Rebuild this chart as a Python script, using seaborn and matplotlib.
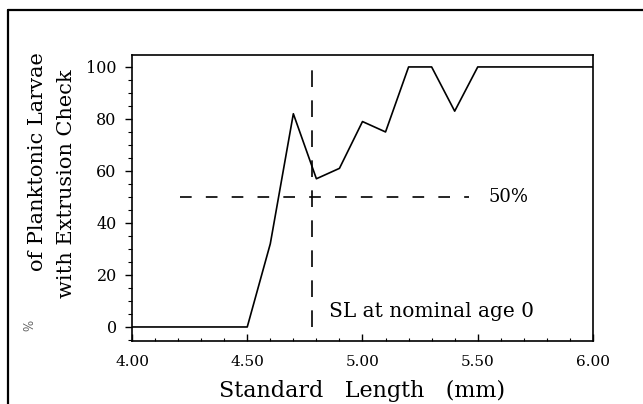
import matplotlib
matplotlib.use("Agg")
import matplotlib.pyplot as plt
import seaborn as sns
import pandas as pd
from matplotlib.lines import Line2D
from matplotlib.ticker import MultipleLocator

sl_mm = [4.00, 4.50, 4.60, 4.70, 4.80, 4.90, 5.00, 5.10, 5.20, 5.30, 5.40, 5.50, 6.00]
pct_check = [0, 0, 32, 82, 57, 61, 79, 75, 100, 100, 83, 100, 100]
x_ticks = [4.0, 4.5, 5.0, 5.5, 6.0]
x_tick_labels = ["4.00", "4.50", "5.00", "5.50", "6.00"]
y_ticks = [0, 20, 40, 60, 80, 100]
nominal_sl = 4.78
half_level = 50

sns.set_style("ticks")
plt.rcParams["font.family"] = ["DejaVu Serif", "DejaVu Sans"]
plt.rcParams["text.color"] = "black"
plt.rcParams["xtick.color"] = "black"
plt.rcParams["ytick.color"] = "black"
plt.rcParams["axes.labelcolor"] = "black"

df = pd.DataFrame({"SL": sl_mm, "pct": pct_check})

fig = plt.figure(figsize=(6.43, 4.04), dpi=100)
ax = fig.add_axes([0.2053, 0.1559, 0.9222 - 0.2053, 0.8639 - 0.1559])

sns.lineplot(data=df, x="SL", y="pct", ax=ax, color="black", lw=1.2, sort=False)

ax.plot([4.21, 5.46], [half_level, half_level], color="black", lw=1.2,
        dashes=(7, 8.5))
ax.plot([nominal_sl, nominal_sl], [0, 100], color="black", lw=1.2,
        dashes=(10, 8))

ax.text(5.545, half_level, "50%", fontsize=13, va="center", ha="left")
ax.text(4.855, 6.0, "SL at nominal age 0", fontsize=14.5, va="center", ha="left")

ax.set_xlim(4.0, 6.0)
ax.set_ylim(-5.4, 104.6)
ax.set_xticks(x_ticks)
ax.set_xticklabels(x_tick_labels)
ax.set_yticks(y_ticks)
ax.xaxis.set_minor_locator(MultipleLocator(0.1))
ax.yaxis.set_minor_locator(MultipleLocator(5))
ax.tick_params(axis="x", which="major", direction="in", length=5, width=1,
               labelsize=11, pad=10)
ax.tick_params(axis="x", which="minor", direction="in", length=2, width=0.8)
ax.tick_params(axis="y", which="major", direction="out", length=5, width=1,
               labelsize=11.5, pad=6)
ax.tick_params(axis="y", which="minor", direction="out", length=3, width=0.8)
for s in ax.spines.values():
    s.set_visible(True)
    s.set_linewidth(1.2)
    s.set_color("black")

ax.set_xlabel("Standard   Length   (mm)", fontsize=16, labelpad=8)
ax.set_ylabel("")

fig.text(0.059, 0.599, "of Planktonic Larvae", rotation=90, fontsize=15,
         ha="center", va="center")
fig.text(0.104, 0.545, "with Extrusion Check", rotation=90, fontsize=15,
         ha="center", va="center")
fig.text(0.047, 0.195, "%", rotation=90, fontsize=8.5, color="#555555",
         ha="center", va="center")

# outer frame (left and top edges)
fig.add_artist(Line2D([8 / 643, 8 / 643], [0, 1 - 10 / 404], color="black",
                      lw=1.6, transform=fig.transFigure))
fig.add_artist(Line2D([8 / 643, 1], [1 - 10 / 404, 1 - 10 / 404], color="black",
                      lw=1.6, transform=fig.transFigure))

fig.savefig("out.png", dpi=100, facecolor="white")
